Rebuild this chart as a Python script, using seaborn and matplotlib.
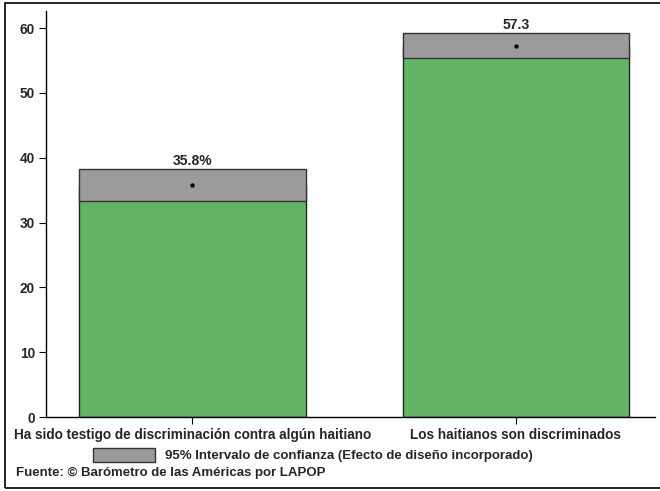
import matplotlib
matplotlib.use("Agg")
import matplotlib.pyplot as plt
import seaborn as sns
import pandas as pd
from matplotlib.patches import Rectangle, Patch

categories = ["Ha sido testigo de discriminación contra algún haitiano",
              "Los haitianos son discriminados"]
means = [35.8, 57.3]
ci_low = [33.4, 55.4]
ci_high = [38.2, 59.3]
value_labels = ["35.8%", "57.3"]

green = "#64b466"
gray = "#9b9b9b"

sns.set_style("white")
plt.rcParams["font.family"] = ["Liberation Sans", "DejaVu Sans"]
plt.rcParams["font.weight"] = "bold"

df = pd.DataFrame({"cat": categories, "mean": means})

fig = plt.figure(figsize=(6.6, 4.91), dpi=100)
ax = fig.add_axes([0.0697, 0.1507, 0.9227, 0.827])

sns.barplot(data=df, x="cat", y="mean", color=green, width=0.7,
            edgecolor="#222222", linewidth=1.0, saturation=1, ax=ax)

for i in range(len(categories)):
    ax.bar(i, ci_high[i] - ci_low[i], bottom=ci_low[i], width=0.7,
           color=gray, edgecolor="#333333", linewidth=1.0, zorder=3)
    ax.text(i, ci_high[i] + 0.15, value_labels[i], ha="center", va="bottom",
            fontsize=10, fontweight="bold")

sns.scatterplot(x=range(len(categories)), y=means, color="black", s=8,
                edgecolor=None, zorder=4, ax=ax, legend=False)

ax.set_xlim(-0.452, 1.43)
ax.set_ylim(0, 62.65)
ax.set_yticks(range(0, 61, 10))
ax.set_xlabel("")
ax.set_ylabel("")
for s in ["top", "right"]:
    ax.spines[s].set_visible(False)
for s in ["left", "bottom"]:
    ax.spines[s].set_color("black")
    ax.spines[s].set_linewidth(1.0)
ax.tick_params(axis="both", which="both", direction="out", length=5,
               width=0.8, color="black", labelsize=9.8, pad=3,
               left=True, bottom=True)
for lab in ax.get_xticklabels() + ax.get_yticklabels():
    lab.set_fontweight("bold")

# legend for confidence interval
leg = fig.legend(handles=[Patch(facecolor=gray, edgecolor="#333333", linewidth=1.0)],
                 labels=["95% Intervalo de confianza (Efecto de diseño incorporado)"],
                 loc="center", bbox_to_anchor=(0.474, 0.073), frameon=False,
                 handlelength=4.7, handleheight=1.2, handletextpad=0.75,
                 prop={"size": 9.5, "weight": "bold"})

fig.text(0.024, 0.037, "Fuente: © Barómetro de las Américas por LAPOP",
         fontsize=9.5, fontweight="bold", va="center", ha="left")

fig.patches.append(Rectangle((5 / 660, 3 / 491), 700 / 660, 485 / 491,
                             transform=fig.transFigure, fill=False,
                             edgecolor="black", linewidth=1.2))

fig.savefig("out.png", dpi=100)
